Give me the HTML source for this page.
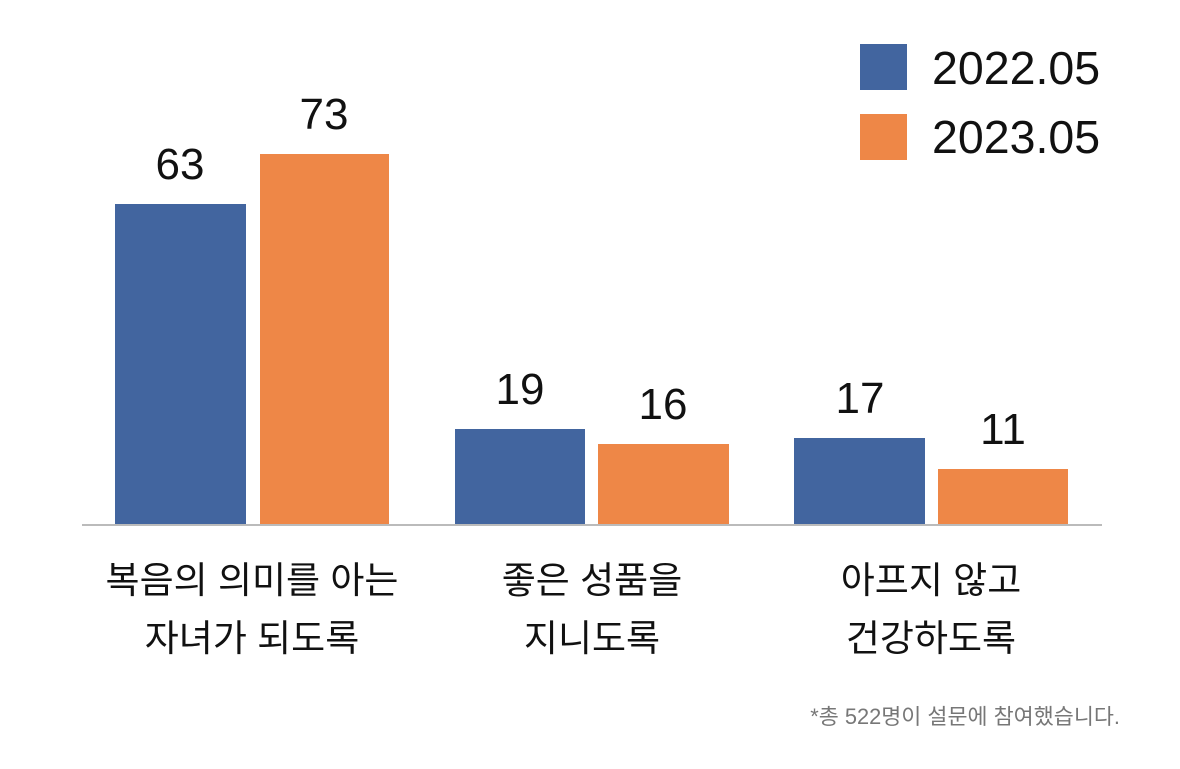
<!DOCTYPE html>
<html><head><meta charset="utf-8"><style>
body{margin:0;background:#fff;}
svg text{font-family:"Liberation Sans","Noto Sans CJK KR",sans-serif;}
</style></head><body>
<svg width="1180" height="764" viewBox="0 0 1180 764" xmlns="http://www.w3.org/2000/svg">
<rect width="1180" height="764" fill="#fff"/>
<g fill="#42659f">
<rect x="115" y="204" width="131" height="321"/>
<rect x="455" y="429" width="130" height="96"/>
<rect x="794" y="438" width="131" height="87"/>
</g>
<g fill="#ee8747">
<rect x="260" y="154" width="129" height="371"/>
<rect x="598" y="444" width="131" height="81"/>
<rect x="938" y="469" width="130" height="56"/>
</g>
<line x1="82" y1="525" x2="1102" y2="525" stroke="#bbb" stroke-width="2"/>
<g font-size="44" text-anchor="middle" fill="#111">
<text x="180" y="179">63</text>
<text x="324" y="129">73</text>
<text x="520" y="404">19</text>
<text x="663" y="419">16</text>
<text x="860" y="413">17</text>
<text x="1003" y="444">11</text>
</g>
<rect x="860" y="44" width="47" height="46" fill="#42659f"/>
<rect x="860" y="114" width="47" height="46" fill="#ee8747"/>
<g font-size="46.5" fill="#111">
<text x="932" y="84">2022.05</text>
<text x="932" y="153">2023.05</text>
</g>
<g font-size="37" text-anchor="middle" fill="#111">
<text x="252" y="593">복음의 의미를 아는</text>
<text x="252" y="651">자녀가 되도록</text>
<text x="592" y="593">좋은 성품을</text>
<text x="592" y="651">지니도록</text>
<text x="931" y="593">아프지 않고</text>
<text x="931" y="651">건강하도록</text>
</g>
<text x="1120" y="724" font-size="21.8" text-anchor="end" fill="#777">*총 522명이 설문에 참여했습니다.</text>
</svg>
</body></html>
